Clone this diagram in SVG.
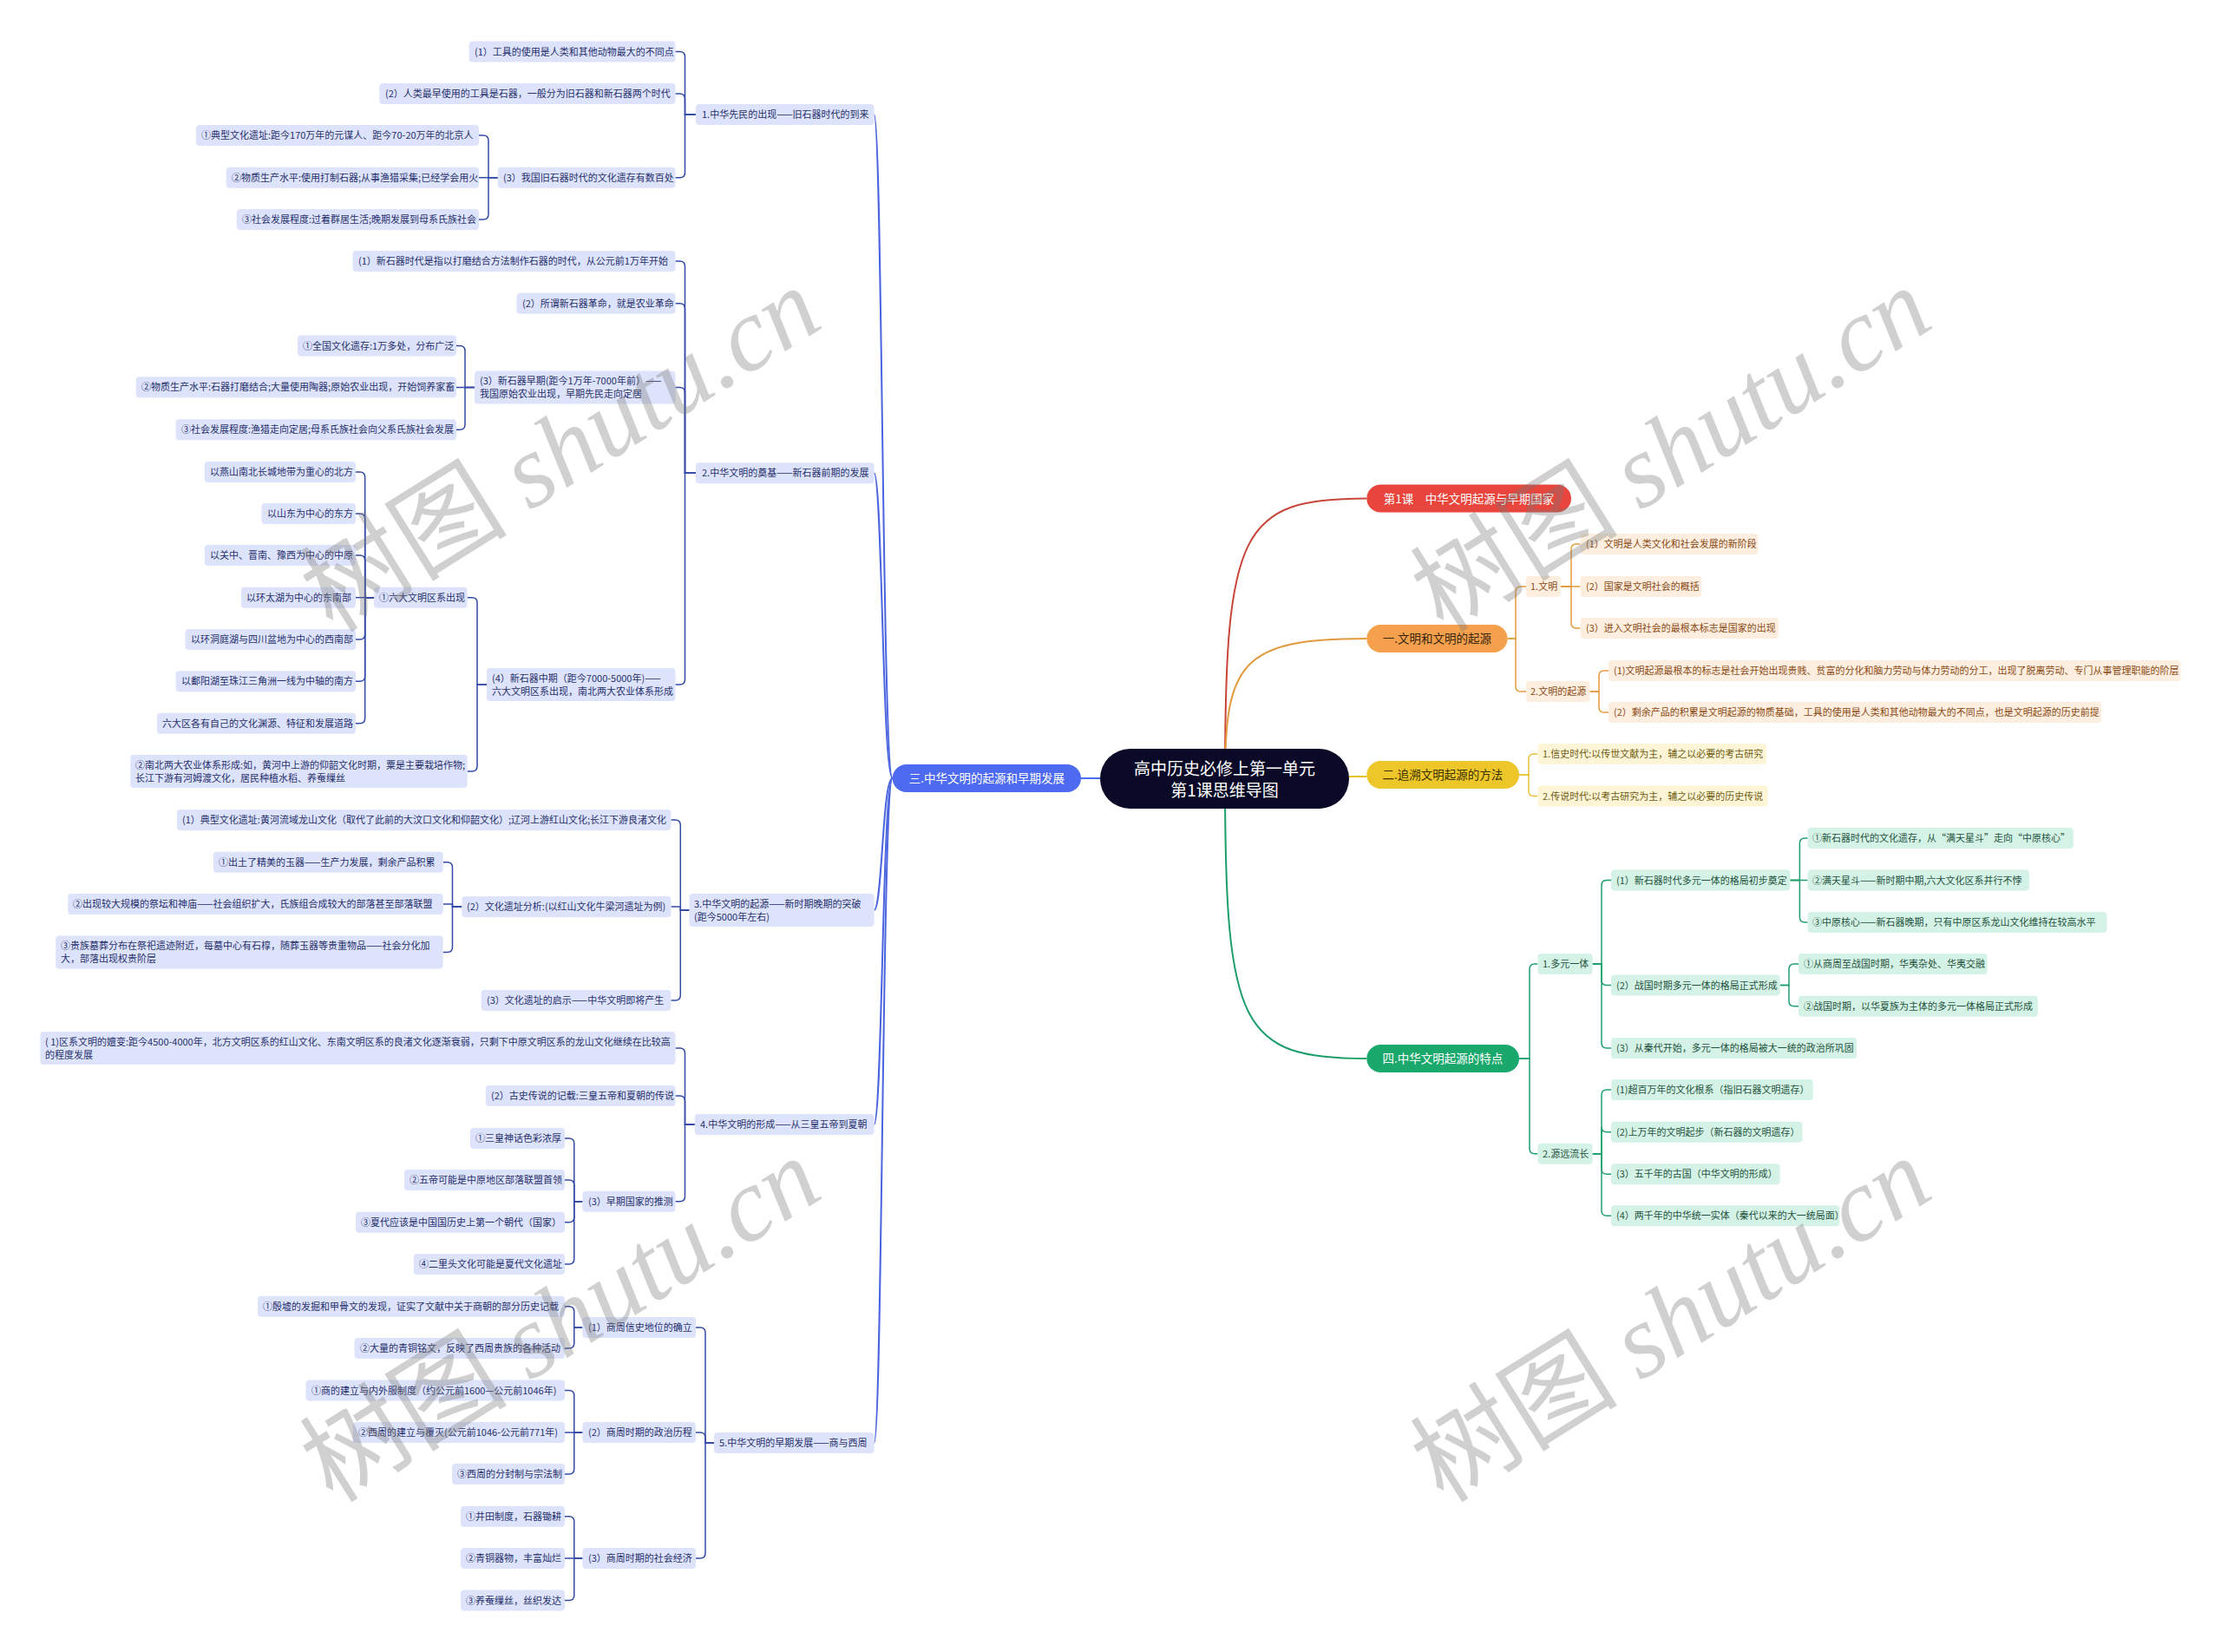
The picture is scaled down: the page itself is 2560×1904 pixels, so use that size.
<svg xmlns="http://www.w3.org/2000/svg" width="2560" height="1904" viewBox="0 0 2560 1904">
<style>
text{font-family:"Noto Sans CJK SC","Noto Sans",sans-serif;}
.lb{fill:#dde3fb;}
.lt{fill:#27306b;font-size:11px;}
.ob{fill:#fdeedf;}
.ot{fill:#8a4a14;font-size:11px;}
.yb{fill:#fdf5d6;}
.yt{fill:#6e5c12;font-size:11px;}
.gb{fill:#d5f2e6;}
.gt{fill:#1f5240;font-size:11px;}
.pt{font-size:13.5px;text-anchor:middle;}
.c{fill:none;stroke-width:1.5;}
.cl{stroke:#3449a6;}
.co{stroke:#e39a3e;}
.cy{stroke:#e5c23a;}
.cg{stroke:#1e9e6e;}
.wm{font-size:120px;fill:#7a7a7a;opacity:0.35;text-anchor:middle;}
</style>
<rect width="2560" height="1904" fill="#ffffff"/>
<g id="connectors">
<path d="M1268,897 H1246" stroke="#4c6ef5" stroke-width="2" fill="none"/>
<path d="M1412,897 C1412,610 1430,574.5 1575.3,574.5" stroke="#c8453a" stroke-width="2" fill="none"/>
<path d="M1412,897 C1412,765 1430,736 1575.3,736" stroke="#e39a3e" stroke-width="2" fill="none"/>
<path d="M1555,895 H1575.3" stroke="#e8c21c" stroke-width="2" fill="none"/>
<path d="M1412,897 C1412,1185 1430,1220 1575.3,1220" stroke="#1a9e6a" stroke-width="2" fill="none"/>
<g stroke="#4a64e0" stroke-width="2" fill="none">
<path d="M1028.7,897 C1017,897 1017,132 1007.5,132"/>
<path d="M1028.7,897 C1017,897 1017,545.3 1007.5,545.3"/>
<path d="M1028.7,897 C1017,897 1017,1049 1007.5,1049"/>
<path d="M1028.7,897 C1017,897 1017,1296 1007.5,1296"/>
<path d="M1028.7,897 C1017,897 1017,1663 1007.5,1663"/>
</g>
<g class="c cl">
<path d="M802,132 H789.5 V65.5 Q789.5,59.5 783.5,59.5 H778.5"/>
<path d="M802,132 H789.5 V114 Q789.5,108 783.5,108 H778.5"/>
<path d="M802,132 H789.5 V198.7 Q789.5,204.7 783.5,204.7 H778.5"/>
<path d="M573.8,204.7 H563 V162 Q563,156 557,156 H552"/>
<path d="M573.8,204.7 H552"/>
<path d="M573.8,204.7 H563 V247 Q563,253 557,253 H552"/>
<path d="M802,545.3 H789.5 V307 Q789.5,301 783.5,301 H778.5"/>
<path d="M802,545.3 H789.5 V355.7 Q789.5,349.7 783.5,349.7 H778.5"/>
<path d="M802,545.3 H789.5 V452.5 Q789.5,446.5 783.5,446.5 H778.5"/>
<path d="M802,545.3 H789.5 V783 Q789.5,789 783.5,789 H778.5"/>
<path d="M547,446.5 H536 V404.5 Q536,398.5 530,398.5 H526"/>
<path d="M547,446.5 H526"/>
<path d="M547,446.5 H536 V489.3 Q536,495.3 530,495.3 H526"/>
<path d="M561,789 H550 V694.7 Q550,688.7 544,688.7 H538.7"/>
<path d="M561,789 H550 V883 Q550,889 544,889 H538.7"/>
<path d="M431,688.7 H420.7 V550 Q420.7,544 414.7,544 H410"/>
<path d="M431,688.7 H420.7 V598 Q420.7,592 414.7,592 H410"/>
<path d="M431,688.7 H420.7 V646 Q420.7,640 414.7,640 H410"/>
<path d="M431,688.7 H410"/>
<path d="M431,688.7 H420.7 V731 Q420.7,737 414.7,737 H410"/>
<path d="M431,688.7 H420.7 V779.3 Q420.7,785.3 414.7,785.3 H410"/>
<path d="M431,688.7 H420.7 V827.7 Q420.7,833.7 414.7,833.7 H410"/>
<path d="M794.5,1049 H784.3 V951 Q784.3,945 778.3,945 H773.4"/>
<path d="M794.5,1049 H784.3 V1045 H773.4"/>
<path d="M794.5,1049 H784.3 V1147 Q784.3,1153 778.3,1153 H773.4"/>
<path d="M532.3,1045 H521.5 V999.7 Q521.5,993.7 515.5,993.7 H510.7"/>
<path d="M532.3,1045 H521.5 V1042 H510.7"/>
<path d="M532.3,1045 H521.5 V1091.5 Q521.5,1097.5 515.5,1097.5 H510.7"/>
<path d="M800.8,1296 H789.5 V1214 Q789.5,1208 783.5,1208 H778.5"/>
<path d="M800.8,1296 H789.5 V1269 Q789.5,1263 783.5,1263 H778.5"/>
<path d="M800.8,1296 H789.5 V1378.7 Q789.5,1384.7 783.5,1384.7 H778.5"/>
<path d="M671.4,1384.7 H661.8 V1318 Q661.8,1312 655.8,1312 H651"/>
<path d="M671.4,1384.7 H661.8 V1366 Q661.8,1360 655.8,1360 H651"/>
<path d="M671.4,1384.7 H661.8 V1402.7 Q661.8,1408.7 655.8,1408.7 H651"/>
<path d="M671.4,1384.7 H661.8 V1451 Q661.8,1457 655.8,1457 H651"/>
<path d="M823,1663 H813 V1536 Q813,1530 807,1530 H802"/>
<path d="M823,1663 H813 V1657 Q813,1651 807,1651 H802"/>
<path d="M823,1663 H813 V1790 Q813,1796 807,1796 H802"/>
<path d="M671.4,1530 H661.8 V1511.8 Q661.8,1505.8 655.8,1505.8 H651"/>
<path d="M671.4,1530 H661.8 V1548 Q661.8,1554 655.8,1554 H651"/>
<path d="M671.4,1651 H661.8 V1608.5 Q661.8,1602.5 655.8,1602.5 H651"/>
<path d="M671.4,1651 H651"/>
<path d="M671.4,1651 H661.8 V1693 Q661.8,1699 655.8,1699 H651"/>
<path d="M671.4,1796 H661.8 V1753.7 Q661.8,1747.7 655.8,1747.7 H651"/>
<path d="M671.4,1796 H651"/>
<path d="M671.4,1796 H661.8 V1838.5 Q661.8,1844.5 655.8,1844.5 H651"/>
</g>
<g class="c co">
<path d="M1737.6,736 H1747 V682 Q1747,676 1753,676 H1759"/>
<path d="M1737.6,736 H1747 V791 Q1747,797 1753,797 H1759"/>
<path d="M1798.8,676 H1811 V633 Q1811,627 1817,627 H1821.5"/>
<path d="M1798.8,676 H1821.5"/>
<path d="M1798.8,676 H1811 V718 Q1811,724 1817,724 H1821.5"/>
<path d="M1832.5,797 H1843 V779 Q1843,773 1849,773 H1854"/>
<path d="M1832.5,797 H1843 V815 Q1843,821 1849,821 H1854"/>
</g>
<g class="c cy">
<path d="M1751,893 H1762 V875 Q1762,869 1768,869 H1772.5"/>
<path d="M1751,893 H1762 V911.5 Q1762,917.5 1768,917.5 H1772.5"/>
</g>
<g class="c cg">
<path d="M1751,1220 H1763 V1117 Q1763,1111 1769,1111 H1772.5"/>
<path d="M1751,1220 H1763 V1323.7 Q1763,1329.7 1769,1329.7 H1772.5"/>
<path d="M1835.6,1111 H1846 V1020.5 Q1846,1014.5 1852,1014.5 H1857"/>
<path d="M1835.6,1111 H1846 V1129.5 Q1846,1135.5 1852,1135.5 H1857"/>
<path d="M1835.6,1111 H1846 V1202 Q1846,1208 1852,1208 H1857"/>
<path d="M2063.4,1014.5 H2074.4 V972 Q2074.4,966 2080.4,966 H2083.6"/>
<path d="M2063.4,1014.5 H2083.6"/>
<path d="M2063.4,1014.5 H2074.4 V1057 Q2074.4,1063 2080.4,1063 H2083.6"/>
<path d="M2051.7,1135.5 H2062 V1117 Q2062,1111 2068,1111 H2073"/>
<path d="M2051.7,1135.5 H2062 V1153.7 Q2062,1159.7 2068,1159.7 H2073"/>
<path d="M1835.6,1329.7 H1846 V1262 Q1846,1256 1852,1256 H1857"/>
<path d="M1835.6,1329.7 H1846 V1298.7 Q1846,1304.7 1852,1304.7 H1857"/>
<path d="M1835.6,1329.7 H1846 V1347.3 Q1846,1353.3 1852,1353.3 H1857"/>
<path d="M1835.6,1329.7 H1846 V1395.3 Q1846,1401.3 1852,1401.3 H1857"/>
</g>
</g>

<g id="root"><rect x="1268" y="863" width="287" height="69" rx="34.5" fill="#0a0a28"/><text x="1411.5" y="893" font-size="19" fill="#fff" text-anchor="middle">高中历史必修上第一单元</text><text x="1411.5" y="918" font-size="19" fill="#fff" text-anchor="middle">第1课思维导图</text></g>

<g id="b3"><rect x="1028.7" y="881" width="217.3" height="32" rx="16" fill="#4d6af0"/><text class="pt" x="1137.3" y="902" fill="#fff">三.中华文明的起源和早期发展</text></g>

<g id="n1"><rect class="lb" x="802" y="120" width="205.5" height="24" rx="4"/><text class="lt" x="809" y="136">1.中华先民的出现——旧石器时代的到来</text></g>
<g id="n1_1"><rect class="lb" x="540.6" y="47.5" width="237.9" height="24" rx="4"/><text class="lt" x="547" y="63.5">(1）工具的使用是人类和其他动物最大的不同点</text></g>
<g id="n1_2"><rect class="lb" x="437.3" y="96" width="341.2" height="24" rx="4"/><text class="lt" x="444" y="112">(2）人类最早使用的工具是石器，一般分为旧石器和新石器两个时代</text></g>
<g id="n1_3"><rect class="lb" x="573.8" y="192.7" width="204.7" height="24" rx="4"/><text class="lt" x="580" y="208.7">(3）我国旧石器时代的文化遗存有数百处</text></g>
<g id="n1_3a"><rect class="lb" x="226" y="144" width="326" height="24" rx="4"/><text class="lt" x="232" y="160">①典型文化遗址:距今170万年的元谋人、距今70-20万年的北京人</text></g>
<g id="n1_3b"><rect class="lb" x="260.7" y="192.7" width="291.3" height="24" rx="4"/><text class="lt" x="267" y="208.7">②物质生产水平:使用打制石器;从事渔猎采集;已经学会用火</text></g>
<g id="n1_3c"><rect class="lb" x="272.8" y="241" width="279.2" height="24" rx="4"/><text class="lt" x="279" y="257">③社会发展程度:过着群居生活;晚期发展到母系氏族社会</text></g>

<g id="n2"><rect class="lb" x="802" y="533.3" width="205.5" height="24" rx="4"/><text class="lt" x="809" y="549.3">2.中华文明的奠基——新石器前期的发展</text></g>
<g id="n2_1"><rect class="lb" x="406.7" y="289" width="371.8" height="24" rx="4"/><text class="lt" x="413" y="305">(1）新石器时代是指以打磨结合方法制作石器的时代，从公元前1万年开始</text></g>
<g id="n2_2"><rect class="lb" x="595.5" y="337.7" width="183" height="24" rx="4"/><text class="lt" x="602" y="353.7">(2）所谓新石器革命，就是农业革命</text></g>
<g id="n2_3"><rect class="lb" x="547" y="427.5" width="231.5" height="38" rx="4"/><text class="lt" x="553" y="443">(3）新石器早期(距今1万年-7000年前）——</text><text class="lt" x="553" y="458">我国原始农业出现，早期先民走向定居</text></g>
<g id="n2_3a"><rect class="lb" x="343" y="386.5" width="183" height="24" rx="4"/><text class="lt" x="349" y="402.5">①全国文化遗存:1万多处，分布广泛</text></g>
<g id="n2_3b"><rect class="lb" x="156.7" y="434.3" width="369.3" height="24" rx="4"/><text class="lt" x="163" y="450.3">②物质生产水平:石器打磨结合;大量使用陶器;原始农业出现，开始饲养家畜</text></g>
<g id="n2_3c"><rect class="lb" x="202.6" y="483.3" width="323.4" height="24" rx="4"/><text class="lt" x="209" y="499.3">③社会发展程度:渔猎走向定居;母系氏族社会向父系氏族社会发展</text></g>
<g id="n2_4"><rect class="lb" x="561" y="770" width="217.5" height="38" rx="4"/><text class="lt" x="567" y="785.5">(4）新石器中期（距今7000-5000年)——</text><text class="lt" x="567" y="800.5">六大文明区系出现，南北两大农业体系形成</text></g>
<g id="n2_4_1"><rect class="lb" x="431" y="676.7" width="107.7" height="24" rx="4"/><text class="lt" x="437" y="692.7">①六大文明区系出现</text></g>
<g id="n2_4a"><rect class="lb" x="235.8" y="532" width="174.2" height="24" rx="4"/><text class="lt" x="242" y="548">以燕山南北长城地带为重心的北方</text></g>
<g id="n2_4b"><rect class="lb" x="301.5" y="580" width="108.5" height="24" rx="4"/><text class="lt" x="308" y="596">以山东为中心的东方</text></g>
<g id="n2_4c"><rect class="lb" x="235.8" y="628" width="174.2" height="24" rx="4"/><text class="lt" x="242" y="644">以关中、晋南、豫西为中心的中原</text></g>
<g id="n2_4d"><rect class="lb" x="277.9" y="676.7" width="132.1" height="24" rx="4"/><text class="lt" x="284" y="692.7">以环太湖为中心的东南部</text></g>
<g id="n2_4e"><rect class="lb" x="213.5" y="725" width="196.5" height="24" rx="4"/><text class="lt" x="220" y="741">以环洞庭湖与四川盆地为中心的西南部</text></g>
<g id="n2_4f"><rect class="lb" x="202.6" y="773.3" width="207.4" height="24" rx="4"/><text class="lt" x="209" y="789.3">以鄱阳湖至珠江三角洲一线为中轴的南方</text></g>
<g id="n2_4g"><rect class="lb" x="181" y="821.7" width="229" height="24" rx="4"/><text class="lt" x="187" y="837.7">六大区各有自己的文化渊源、特征和发展道路</text></g>
<g id="n2_4_2"><rect class="lb" x="150.3" y="870" width="388.4" height="38" rx="4"/><text class="lt" x="156" y="885.5">②南北两大农业体系形成:如，黄河中上游的仰韶文化时期，粟是主要栽培作物;</text><text class="lt" x="156" y="900.5">长江下游有河姆渡文化，居民种植水稻、养蚕缫丝</text></g>

<g id="n3"><rect class="lb" x="794.5" y="1030" width="213" height="38" rx="4"/><text class="lt" x="800" y="1045.5">3.中华文明的起源——新时期晚期的突破</text><text class="lt" x="800" y="1060.5">(距今5000年左右)</text></g>
<g id="n3_1"><rect class="lb" x="204" y="933" width="569.4" height="24" rx="4"/><text class="lt" x="210" y="949">(1）典型文化遗址:黄河流域龙山文化（取代了此前的大汶口文化和仰韶文化）;辽河上游红山文化;长江下游良渚文化</text></g>
<g id="n3_2"><rect class="lb" x="532.3" y="1033" width="241.1" height="24" rx="4"/><text class="lt" x="538" y="1049">(2）文化遗址分析:(以红山文化牛梁河遗址为例)</text></g>
<g id="n3_2a"><rect class="lb" x="246" y="981.7" width="264.7" height="24" rx="4"/><text class="lt" x="252" y="997.7">①出土了精美的玉器——生产力发展，剩余产品积累</text></g>
<g id="n3_2b"><rect class="lb" x="78.3" y="1030" width="432.4" height="24" rx="4"/><text class="lt" x="84" y="1046">②出现较大规模的祭坛和神庙——社会组织扩大，氏族组合成较大的部落甚至部落联盟</text></g>
<g id="n3_2c"><rect class="lb" x="64.2" y="1078.5" width="446.5" height="38" rx="4"/><text class="lt" x="70" y="1094">③贵族墓葬分布在祭祀遗迹附近，每墓中心有石椁，随葬玉器等贵重物品——社会分化加</text><text class="lt" x="70" y="1109">大，部落出现权贵阶层</text></g>
<g id="n3_3"><rect class="lb" x="554.7" y="1141" width="218.7" height="24" rx="4"/><text class="lt" x="561" y="1157">(3）文化遗址的启示——中华文明即将产生</text></g>

<g id="n4"><rect class="lb" x="800.8" y="1284" width="206.7" height="24" rx="4"/><text class="lt" x="807" y="1300">4.中华文明的形成——从三皇五帝到夏朝</text></g>
<g id="n4_1"><rect class="lb" x="46.4" y="1189" width="732.1" height="38" rx="4"/><text class="lt" x="52" y="1204.5">( 1)区系文明的嬗变:距今4500-4000年，北方文明区系的红山文化、东南文明区系的良渚文化逐渐衰弱，只剩下中原文明区系的龙山文化继续在比较高</text><text class="lt" x="52" y="1219.5">的程度发展</text></g>
<g id="n4_2"><rect class="lb" x="559.8" y="1251" width="218.7" height="24" rx="4"/><text class="lt" x="566" y="1267">(2）古史传说的记载:三皇五帝和夏朝的传说</text></g>
<g id="n4_3"><rect class="lb" x="671.4" y="1372.7" width="107.1" height="24" rx="4"/><text class="lt" x="678" y="1388.7">(3）早期国家的推测</text></g>
<g id="n4_3a"><rect class="lb" x="542" y="1300" width="109" height="24" rx="4"/><text class="lt" x="548" y="1316">①三皇神话色彩浓厚</text></g>
<g id="n4_3b"><rect class="lb" x="466" y="1348" width="185" height="24" rx="4"/><text class="lt" x="472" y="1364">②五帝可能是中原地区部落联盟首领</text></g>
<g id="n4_3c"><rect class="lb" x="410" y="1396.7" width="241" height="24" rx="4"/><text class="lt" x="416" y="1412.7">③夏代应该是中国国历史上第一个朝代（国家）</text></g>
<g id="n4_3d"><rect class="lb" x="476.9" y="1445" width="174.1" height="24" rx="4"/><text class="lt" x="483" y="1461">④二里头文化可能是夏代文化遗址</text></g>

<g id="n5"><rect class="lb" x="823" y="1651" width="184.5" height="24" rx="4"/><text class="lt" x="829" y="1667">5.中华文明的早期发展——商与西周</text></g>
<g id="n5_1"><rect class="lb" x="671.4" y="1518" width="130.6" height="24" rx="4"/><text class="lt" x="678" y="1534">(1）商周信史地位的确立</text></g>
<g id="n5_1a"><rect class="lb" x="297" y="1493.8" width="354" height="24" rx="4"/><text class="lt" x="303" y="1509.8">①殷墟的发掘和甲骨文的发现，证实了文献中关于商朝的部分历史记载</text></g>
<g id="n5_1b"><rect class="lb" x="408.6" y="1542" width="242.4" height="24" rx="4"/><text class="lt" x="415" y="1558">②大量的青铜铭文，反映了西周贵族的各种活动</text></g>
<g id="n5_2"><rect class="lb" x="671.4" y="1639" width="130.6" height="24" rx="4"/><text class="lt" x="678" y="1655">(2）商周时期的政治历程</text></g>
<g id="n5_2a"><rect class="lb" x="352.5" y="1590.5" width="298.5" height="24" rx="4"/><text class="lt" x="359" y="1606.5">①商的建立与内外服制度（约公元前1600—公元前1046年)</text></g>
<g id="n5_2b"><rect class="lb" x="406.7" y="1639" width="244.3" height="24" rx="4"/><text class="lt" x="413" y="1655">②西周的建立与覆灭(公元前1046-公元前771年)</text></g>
<g id="n5_2c"><rect class="lb" x="521" y="1687" width="130" height="24" rx="4"/><text class="lt" x="527" y="1703">③西周的分封制与宗法制</text></g>
<g id="n5_3"><rect class="lb" x="671.4" y="1784" width="130.6" height="24" rx="4"/><text class="lt" x="678" y="1800">(3）商周时期的社会经济</text></g>
<g id="n5_3a"><rect class="lb" x="531" y="1735.7" width="120" height="24" rx="4"/><text class="lt" x="537" y="1751.7">①井田制度，石器锄耕</text></g>
<g id="n5_3b"><rect class="lb" x="531" y="1784" width="120" height="24" rx="4"/><text class="lt" x="537" y="1800">②青铜器物，丰富灿烂</text></g>
<g id="n5_3c"><rect class="lb" x="531" y="1832.5" width="120" height="24" rx="4"/><text class="lt" x="537" y="1848.5">③养蚕缫丝，丝织发达</text></g>

<g id="r0"><rect x="1575.3" y="558.5" width="235.7" height="32" rx="16" fill="#e8453c"/><text class="pt" x="1693" y="579.5" fill="#fff">第1课　中华文明起源与早期国家</text></g>

<g id="r1"><rect x="1575.3" y="720" width="162.3" height="32" rx="16" fill="#f4a04c"/><text class="pt" x="1656.5" y="741" fill="#3a2410">一.文明和文明的起源</text></g>
<g id="r1_1"><rect class="ob" x="1759" y="664" width="39.8" height="24" rx="4"/><text class="ot" x="1764" y="680">1.文明</text></g>
<g id="r1_1a"><rect class="ob" x="1821.5" y="615" width="205.1" height="24" rx="4"/><text class="ot" x="1828" y="631">(1）文明是人类文化和社会发展的新阶段</text></g>
<g id="r1_1b"><rect class="ob" x="1821.5" y="664" width="139.5" height="24" rx="4"/><text class="ot" x="1828" y="680">(2）国家是文明社会的概括</text></g>
<g id="r1_1c"><rect class="ob" x="1821.5" y="712" width="228.5" height="24" rx="4"/><text class="ot" x="1828" y="728">(3）进入文明社会的最根本标志是国家的出现</text></g>
<g id="r1_2"><rect class="ob" x="1759" y="785" width="73.5" height="24" rx="4"/><text class="ot" x="1764" y="801">2.文明的起源</text></g>
<g id="r1_2a"><rect class="ob" x="1854" y="761" width="659.5" height="24" rx="4"/><text class="ot" x="1860" y="777">(1)文明起源最根本的标志是社会开始出现贵贱、贫富的分化和脑力劳动与体力劳动的分工，出现了脱离劳动、专门从事管理职能的阶层</text></g>
<g id="r1_2b"><rect class="ob" x="1854" y="809" width="568" height="24" rx="4"/><text class="ot" x="1860" y="825">(2）剩余产品的积累是文明起源的物质基础，工具的使用是人类和其他动物最大的不同点，也是文明起源的历史前提</text></g>

<g id="r2"><rect x="1575.3" y="877" width="175.7" height="32" rx="16" fill="#edc62a"/><text class="pt" x="1663" y="898" fill="#3a3000">二.追溯文明起源的方法</text></g>
<g id="r2_1"><rect class="yb" x="1772.5" y="857" width="263.5" height="24" rx="4"/><text class="yt" x="1778" y="873">1.信史时代:以传世文献为主，辅之以必要的考古研究</text></g>
<g id="r2_2"><rect class="yb" x="1772.5" y="905.5" width="265.2" height="24" rx="4"/><text class="yt" x="1778" y="921.5">2.传说时代:以考古研究为主，辅之以必要的历史传说</text></g>

<g id="r4"><rect x="1575.3" y="1204" width="175.7" height="32" rx="16" fill="#1aa86c"/><text class="pt" x="1663" y="1225" fill="#fff">四.中华文明起源的特点</text></g>
<g id="r4_1"><rect class="gb" x="1772.5" y="1099" width="63.1" height="24" rx="4"/><text class="gt" x="1778" y="1115">1.多元一体</text></g>
<g id="r4_1_1"><rect class="gb" x="1857" y="1002.5" width="206.4" height="24" rx="4"/><text class="gt" x="1863" y="1018.5">(1）新石器时代多元一体的格局初步奠定</text></g>
<g id="r4_1_1a"><rect class="gb" x="2083.6" y="954" width="306.2" height="24" rx="4"/><text class="gt" x="2089" y="970">①新石器时代的文化遗存，从“满天星斗”走向“中原核心”</text></g>
<g id="r4_1_1b"><rect class="gb" x="2083.6" y="1002.5" width="255.4" height="24" rx="4"/><text class="gt" x="2089" y="1018.5">②满天星斗——新时期中期,六大文化区系并行不悖</text></g>
<g id="r4_1_1c"><rect class="gb" x="2083.6" y="1051" width="344.8" height="24" rx="4"/><text class="gt" x="2089" y="1067">③中原核心——新石器晚期，只有中原区系龙山文化维持在较高水平</text></g>
<g id="r4_1_2"><rect class="gb" x="1857" y="1123.5" width="194.7" height="24" rx="4"/><text class="gt" x="1863" y="1139.5">(2）战国时期多元一体的格局正式形成</text></g>
<g id="r4_1_2a"><rect class="gb" x="2073" y="1099" width="217.6" height="24" rx="4"/><text class="gt" x="2079" y="1115">①从商周至战国时期，华夷杂处、华夷交融</text></g>
<g id="r4_1_2b"><rect class="gb" x="2073" y="1147.7" width="275.8" height="24" rx="4"/><text class="gt" x="2079" y="1163.7">②战国时期，以华夏族为主体的多元一体格局正式形成</text></g>
<g id="r4_1_3"><rect class="gb" x="1857" y="1196" width="283" height="24" rx="4"/><text class="gt" x="1863" y="1212">(3）从秦代开始，多元一体的格局被大一统的政治所巩固</text></g>
<g id="r4_2"><rect class="gb" x="1772.5" y="1317.7" width="63.1" height="24" rx="4"/><text class="gt" x="1778" y="1333.7">2.源远流长</text></g>
<g id="r4_2a"><rect class="gb" x="1857" y="1244" width="232.7" height="24" rx="4"/><text class="gt" x="1863" y="1260">(1)超百万年的文化根系（指旧石器文明遗存）</text></g>
<g id="r4_2b"><rect class="gb" x="1857" y="1292.7" width="220.5" height="24" rx="4"/><text class="gt" x="1863" y="1308.7">(2)上万年的文明起步（新石器的文明遗存）</text></g>
<g id="r4_2c"><rect class="gb" x="1857" y="1341.3" width="194.7" height="24" rx="4"/><text class="gt" x="1863" y="1357.3">(3）五千年的古国（中华文明的形成）</text></g>
<g id="r4_2d"><rect class="gb" x="1857" y="1389.3" width="263.3" height="24" rx="4"/><text class="gt" x="1863" y="1405.3">(4）两千年的中华统一实体（秦代以来的大一统局面）</text></g>

<g id="watermarks">
<text class="wm" transform="translate(668,553) rotate(-32)">树图 <tspan font-family="Liberation Serif" font-style="italic">shutu.cn</tspan></text>
<text class="wm" transform="translate(668,1556) rotate(-32)">树图 <tspan font-family="Liberation Serif" font-style="italic">shutu.cn</tspan></text>
<text class="wm" transform="translate(1948,553) rotate(-32)">树图 <tspan font-family="Liberation Serif" font-style="italic">shutu.cn</tspan></text>
<text class="wm" transform="translate(1948,1556) rotate(-32)">树图 <tspan font-family="Liberation Serif" font-style="italic">shutu.cn</tspan></text>
</g>
</svg>
